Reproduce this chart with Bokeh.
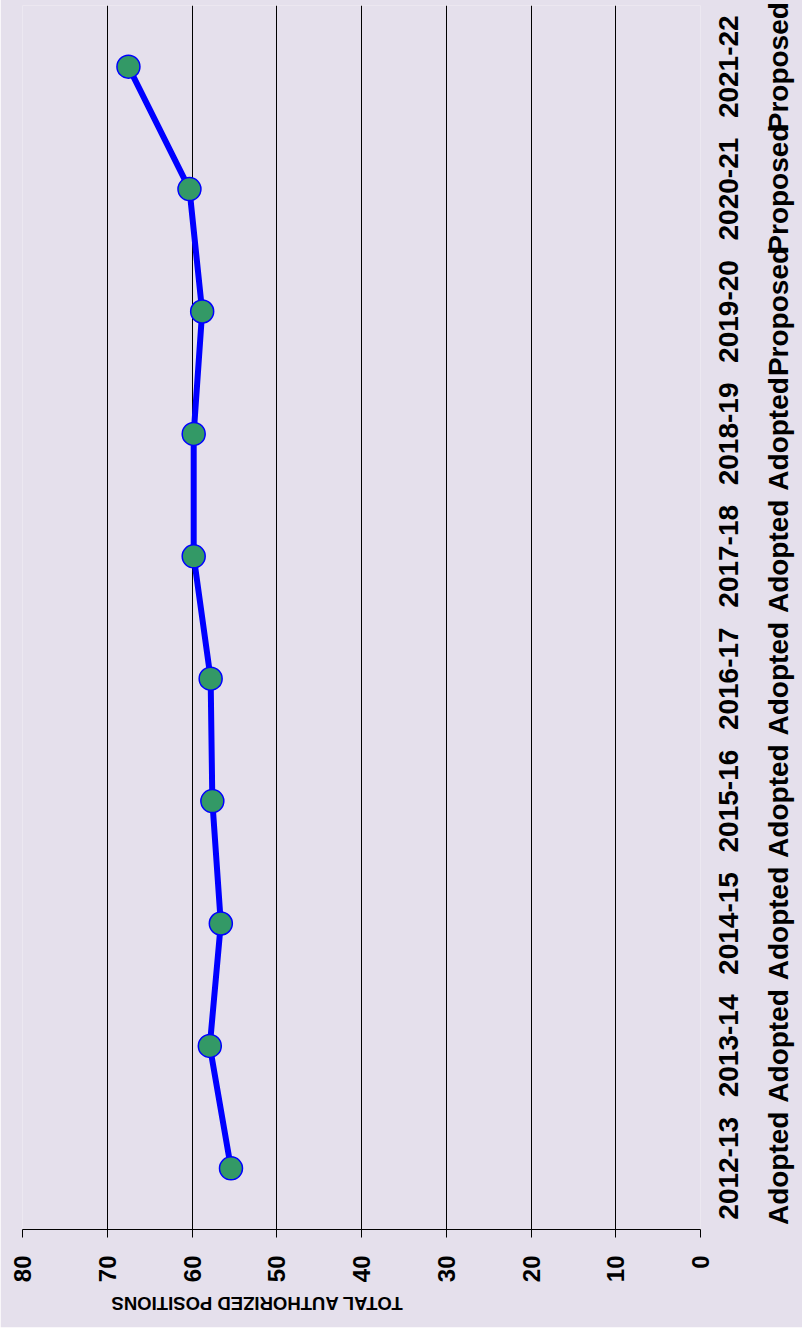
from bokeh.plotting import figure
from bokeh.models import (ColumnDataSource, Range1d, FactorRange, CategoricalAxis,
                          FixedTicker, CustomJSTickFormatter, Title,
                          InlineStyleSheet, GlobalInlineStyleSheet)
from bokeh.embed import file_html
from bokeh.resources import INLINE

years = ["2012-13", "2013-14", "2014-15", "2015-16", "2016-17",
         "2017-18", "2018-19", "2019-20", "2020-21", "2021-22"]
status = ["Adopted", "Adopted", "Adopted", "Adopted", "Adopted",
          "Adopted", "Adopted", "Proposed", "Proposed", "Proposed"]
positions = [55.4, 57.9, 56.6, 57.6, 57.8, 59.8, 59.8, 58.8, 60.3, 67.5]
value_ticks = [0, 10, 20, 30, 40, 50, 60, 70, 80]
axis_title = "TOTAL AUTHORIZED POSITIONS"

BG = "#E5E0EC"
FONT = "Liberation Sans"

source = ColumnDataSource(data=dict(year=years, pos=positions))

# The page element is 802 x 1328 and is shown turned a quarter turn
# counter-clockwise; Bokeh lays the chart out upright in the turned box
# (1328 wide x 802 tall), as in the reference.
p = figure(width=802, height=1328, output_backend="svg", toolbar_location=None,
           x_range=FactorRange(factors=years, range_padding=0), y_range=Range1d(0, 80),
           min_border_left=98, min_border_right=6, min_border_top=22, min_border_bottom=102)
p.styles = {"transform-origin": "0 0",
            "transform": "translate(0px, 1328px) rotate(-90deg)"}
p.stylesheets = [
    InlineStyleSheet(css=":host { overflow: visible !important; }"),
    GlobalInlineStyleSheet(css="html, body { margin: 0; overflow: hidden; }"),
]
p.background_fill_color = BG
p.border_fill_color = BG
p.outline_line_color = None

p.line("year", "pos", source=source, line_color="#0000FF", line_width=6)
p.scatter("year", "pos", source=source, size=23, fill_color="#339966",
          line_color="#0000FF", line_width=1.5)

# grid
p.xgrid.grid_line_color = None
p.ygrid.ticker = FixedTicker(ticks=value_ticks)
p.ygrid.grid_line_color = "#000000"
p.ygrid.grid_line_width = 1

# left value axis
ya = p.yaxis[0]
ya.ticker = FixedTicker(ticks=value_ticks)
ya.axis_line_color = "#000000"
ya.axis_line_width = 1
ya.major_tick_line_color = "#000000"
ya.major_tick_out = 8
ya.major_tick_in = 0
ya.minor_tick_line_color = None
ya.major_label_standoff = 18
ya.major_label_text_font = FONT
ya.major_label_text_font_style = "bold"
ya.major_label_text_font_size = "24px"
ya.major_label_text_color = "#000000"

# bottom category axis (years)
xa = p.xaxis[0]
xa.axis_line_color = None
xa.major_tick_line_color = None
xa.major_tick_out = 0
xa.major_tick_in = 0
xa.major_label_standoff = 18
xa.major_label_text_font = FONT
xa.major_label_text_font_style = "bold"
xa.major_label_text_font_size = "28px"
xa.major_label_text_color = "#000000"

# second bottom axis (status)
sa = CategoricalAxis(axis_line_color=None, major_tick_line_color=None,
                     major_tick_out=0, major_tick_in=0,
                     major_label_standoff=22,
                     major_label_text_font=FONT,
                     major_label_text_font_style="bold",
                     major_label_text_font_size="28px",
                     major_label_text_color="#000000",
                     formatter=CustomJSTickFormatter(
                         args=dict(years=years, status=status),
                         code="const i = years.indexOf(tick); return i >= 0 ? status[i] : tick;"))
p.add_layout(sa, "below")

# value axis title (off-centre toward the top, as in the reference)
p.add_layout(Title(text=axis_title, align="right", offset=88, standoff=14,
                   text_font=FONT, text_font_style="bold",
                   text_font_size="18.5px", text_color="#000000"), "left")

open("out.html", "w").write(file_html(p, INLINE))
